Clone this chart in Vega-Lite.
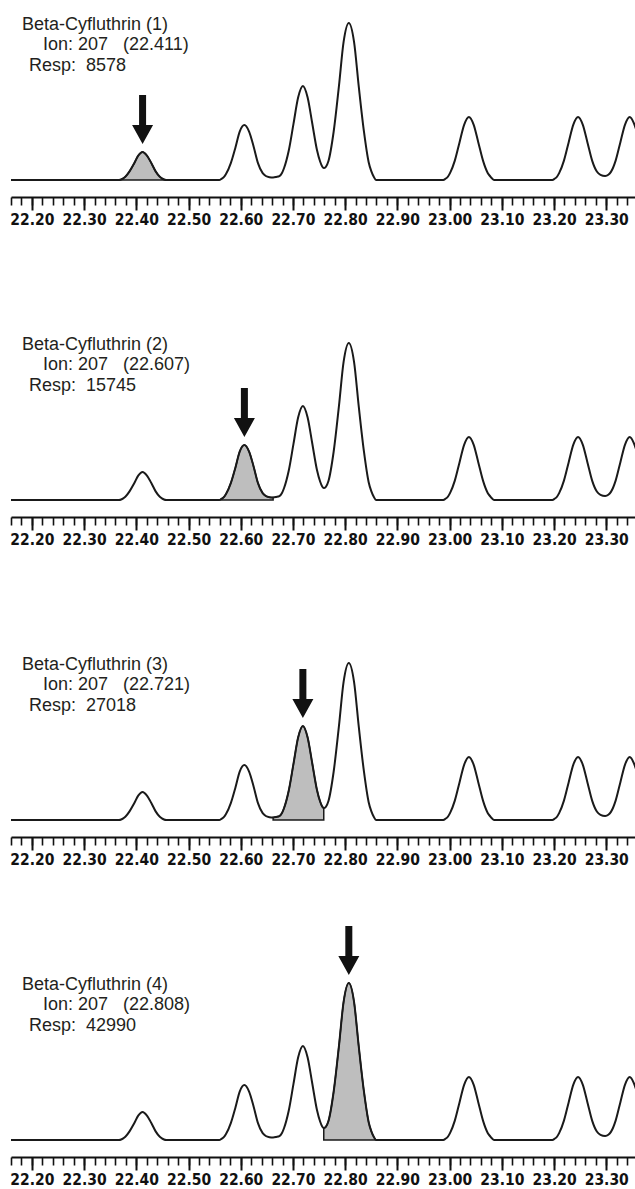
{
  "$schema": "https://vega.github.io/schema/vega-lite/v6.json",
  "background": "white",
  "padding": {"left": 7, "top": 0, "right": 0, "bottom": 0},
  "bounds": "flush",
  "spacing": 140,
  "config": {"view": {"stroke": null}},
  "datasets": {
    "curve": [
      {"t": 22.16, "v": 0},
      {"t": 22.367, "v": 0}, {"t": 22.371, "v": 0.5}, {"t": 22.375, "v": 1.6}, {"t": 22.379, "v": 3.2}, {"t": 22.387, "v": 8.6}, {"t": 22.396, "v": 16.7}, {"t": 22.404, "v": 24.6}, {"t": 22.412, "v": 28}, {"t": 22.42, "v": 24.6}, {"t": 22.429, "v": 16.7}, {"t": 22.437, "v": 8.6}, {"t": 22.445, "v": 3.2}, {"t": 22.449, "v": 1.6}, {"t": 22.453, "v": 0.5}, {"t": 22.457, "v": 0},
      {"t": 22.559, "v": 0}, {"t": 22.563, "v": 1.1}, {"t": 22.568, "v": 3.1}, {"t": 22.572, "v": 6.2}, {"t": 22.581, "v": 16.9}, {"t": 22.59, "v": 32.8}, {"t": 22.598, "v": 48.4}, {"t": 22.607, "v": 55}, {"t": 22.616, "v": 48.4}, {"t": 22.625, "v": 32.8}, {"t": 22.633, "v": 16.9}, {"t": 22.642, "v": 6.8}, {"t": 22.648, "v": 4.0}, {"t": 22.655, "v": 2.8}, {"t": 22.662, "v": 2.5}, {"t": 22.668, "v": 3.0},
      {"t": 22.674, "v": 3.9}, {"t": 22.679, "v": 7.0}, {"t": 22.683, "v": 12.0}, {"t": 22.692, "v": 29.5}, {"t": 22.701, "v": 56.1}, {"t": 22.71, "v": 82.7}, {"t": 22.719, "v": 94}, {"t": 22.728, "v": 82.7}, {"t": 22.737, "v": 56.5}, {"t": 22.746, "v": 30}, {"t": 22.752, "v": 18.5}, {"t": 22.756, "v": 13.5}, {"t": 22.759, "v": 12},
      {"t": 22.763, "v": 13.2}, {"t": 22.768, "v": 19}, {"t": 22.778, "v": 48.5}, {"t": 22.788, "v": 93.6}, {"t": 22.797, "v": 138.1}, {"t": 22.807, "v": 157}, {"t": 22.817, "v": 138.1}, {"t": 22.826, "v": 93.6}, {"t": 22.836, "v": 48.3}, {"t": 22.845, "v": 17.8}, {"t": 22.85, "v": 8.8}, {"t": 22.855, "v": 3.0}, {"t": 22.859, "v": 0},
      {"t": 22.988, "v": 0}, {"t": 22.992, "v": 1.2}, {"t": 22.997, "v": 3.5}, {"t": 23.001, "v": 7.1}, {"t": 23.01, "v": 19.4}, {"t": 23.019, "v": 37.6}, {"t": 23.028, "v": 55.4}, {"t": 23.037, "v": 63}, {"t": 23.046, "v": 55.4}, {"t": 23.055, "v": 37.6}, {"t": 23.064, "v": 19.4}, {"t": 23.073, "v": 7.1}, {"t": 23.078, "v": 3.5}, {"t": 23.082, "v": 1.2}, {"t": 23.086, "v": 0},
      {"t": 23.197, "v": 0}, {"t": 23.201, "v": 1.2}, {"t": 23.206, "v": 3.5}, {"t": 23.21, "v": 7.1}, {"t": 23.219, "v": 19.4}, {"t": 23.228, "v": 37.6}, {"t": 23.237, "v": 55.4}, {"t": 23.246, "v": 63}, {"t": 23.255, "v": 55.4}, {"t": 23.264, "v": 37.6}, {"t": 23.273, "v": 19.4}, {"t": 23.282, "v": 8.5}, {"t": 23.289, "v": 5.2}, {"t": 23.298, "v": 4.0}, {"t": 23.304, "v": 5.2},
      {"t": 23.309, "v": 8.1}, {"t": 23.318, "v": 19.4}, {"t": 23.327, "v": 37.6}, {"t": 23.336, "v": 55.4}, {"t": 23.345, "v": 63}, {"t": 23.354, "v": 55.4}, {"t": 23.357, "v": 51}
    ],
    "info": [
      {"panel": 1, "name": "Beta-Cyfluthrin (1)", "ion": "Ion: 207\u00a0\u00a0 (22.411)", "resp": "Resp:\u00a0 8578", "apex_t": 22.412, "apex_v": 28},
      {"panel": 2, "name": "Beta-Cyfluthrin (2)", "ion": "Ion: 207\u00a0\u00a0 (22.607)", "resp": "Resp:\u00a0 15745", "apex_t": 22.607, "apex_v": 55},
      {"panel": 3, "name": "Beta-Cyfluthrin (3)", "ion": "Ion: 207\u00a0\u00a0 (22.721)", "resp": "Resp:\u00a0 27018", "apex_t": 22.719, "apex_v": 94},
      {"panel": 4, "name": "Beta-Cyfluthrin (4)", "ion": "Ion: 207\u00a0\u00a0 (22.808)", "resp": "Resp:\u00a0 42990", "apex_t": 22.807, "apex_v": 157}
    ]
  },
  "vconcat": [
    {
      "width": 625, "height": 180,
      "resolve": {"axis": {"x": "independent"}},
      "layer": [
        {"data": {"name": "curve"}, "transform": [{"filter": "datum.t >= 22.36 && datum.t <= 22.46"}],
         "mark": {"type": "area", "interpolate": "monotone", "fill": "#bebebe", "stroke": "#1a1a1a", "strokeWidth": 1.5},
         "encoding": {"x": {"field": "t", "type": "quantitative", "scale": {"domain": [22.16, 23.357], "nice": false, "zero": false}, "axis": null},
                      "y": {"field": "v", "type": "quantitative", "scale": {"domain": [0, 180], "nice": false}, "axis": null}}},
        {"data": {"name": "curve"},
         "mark": {"type": "line", "interpolate": "monotone", "color": "#1a1a1a", "strokeWidth": 2},
         "encoding": {"x": {"field": "t", "type": "quantitative", "scale": {"domain": [22.16, 23.357], "nice": false, "zero": false},
                            "axis": {"orient": "bottom", "offset": 17, "values": [22.16,22.18,22.2,22.22,22.24,22.26,22.28,22.3,22.32,22.34,22.36,22.38,22.4,22.42,22.44,22.46,22.48,22.5,22.52,22.54,22.56,22.58,22.6,22.62,22.64,22.66,22.68,22.7,22.72,22.74,22.76,22.78,22.8,22.82,22.84,22.86,22.88,22.9,22.92,22.94,22.96,22.98,23,23.02,23.04,23.06,23.08,23.1,23.12,23.14,23.16,23.18,23.2,23.22,23.24,23.26,23.28,23.3,23.32,23.34], "labels": false, "grid": false, "title": null, "tickSize": 8, "tickWidth": 1.6, "tickColor": "#111111", "domain": true, "domainWidth": 2, "domainColor": "#111111"}},
                      "y": {"field": "v", "type": "quantitative", "scale": {"domain": [0, 180], "nice": false}, "axis": null}}},
        {"data": {"name": "info"}, "transform": [{"filter": "datum.panel == 1"}],
         "mark": {"type": "point", "shape": "M-3.5,-57L3.5,-57L3.5,-27L10.5,-27L0,-8L-10.5,-27L-3.5,-27Z", "size": 4, "filled": true, "color": "#111111", "opacity": 1, "strokeWidth": 0},
         "encoding": {"x": {"field": "apex_t", "type": "quantitative", "scale": {"domain": [22.16, 23.357], "nice": false, "zero": false},
                            "axis": {"orient": "bottom", "offset": 17, "values": [22.2,22.3,22.4,22.5,22.6,22.7,22.8,22.9,23,23.1,23.2,23.3], "format": ".2f", "grid": false, "title": null, "domain": false, "tickSize": 13, "tickWidth": 2, "tickColor": "#111111", "labelFont": "DejaVu Sans Condensed", "labelFontWeight": "bold", "labelFontSize": 15.5, "labelColor": "#111111", "labelPadding": 2, "labelOverlap": false, "labelFlush": false}},
                      "y": {"field": "apex_v", "type": "quantitative", "scale": {"domain": [0, 180], "nice": false}, "axis": null}}},
        {"data": {"name": "info"}, "transform": [{"filter": "datum.panel == 1"}],
         "mark": {"type": "text", "align": "left", "baseline": "middle", "font": "Liberation Sans", "fontSize": 18, "color": "#231f20"},
         "encoding": {"x": {"datum": 22.181, "type": "quantitative", "scale": {"domain": [22.16, 23.357], "nice": false, "zero": false}, "axis": null},
                      "y": {"datum": 155.5, "type": "quantitative", "scale": {"domain": [0, 180], "nice": false}, "axis": null},
                      "text": {"field": "name"}}},
        {"data": {"name": "info"}, "transform": [{"filter": "datum.panel == 1"}],
         "mark": {"type": "text", "align": "left", "baseline": "middle", "font": "Liberation Sans", "fontSize": 18, "color": "#231f20"},
         "encoding": {"x": {"datum": 22.2211, "type": "quantitative", "scale": {"domain": [22.16, 23.357], "nice": false, "zero": false}, "axis": null},
                      "y": {"datum": 135, "type": "quantitative", "scale": {"domain": [0, 180], "nice": false}, "axis": null},
                      "text": {"field": "ion"}}},
        {"data": {"name": "info"}, "transform": [{"filter": "datum.panel == 1"}],
         "mark": {"type": "text", "align": "left", "baseline": "middle", "font": "Liberation Sans", "fontSize": 18, "color": "#231f20"},
         "encoding": {"x": {"datum": 22.1945, "type": "quantitative", "scale": {"domain": [22.16, 23.357], "nice": false, "zero": false}, "axis": null},
                      "y": {"datum": 114.5, "type": "quantitative", "scale": {"domain": [0, 180], "nice": false}, "axis": null},
                      "text": {"field": "resp"}}}
      ]
    },
    {
      "width": 625, "height": 180,
      "resolve": {"axis": {"x": "independent"}},
      "layer": [
        {"data": {"name": "curve"}, "transform": [{"filter": "datum.t >= 22.555 && datum.t <= 22.6625"}],
         "mark": {"type": "area", "interpolate": "monotone", "fill": "#bebebe", "stroke": "#1a1a1a", "strokeWidth": 1.5},
         "encoding": {"x": {"field": "t", "type": "quantitative", "scale": {"domain": [22.16, 23.357], "nice": false, "zero": false}, "axis": null},
                      "y": {"field": "v", "type": "quantitative", "scale": {"domain": [0, 180], "nice": false}, "axis": null}}},
        {"data": {"name": "curve"},
         "mark": {"type": "line", "interpolate": "monotone", "color": "#1a1a1a", "strokeWidth": 2},
         "encoding": {"x": {"field": "t", "type": "quantitative", "scale": {"domain": [22.16, 23.357], "nice": false, "zero": false},
                            "axis": {"orient": "bottom", "offset": 17, "values": [22.16,22.18,22.2,22.22,22.24,22.26,22.28,22.3,22.32,22.34,22.36,22.38,22.4,22.42,22.44,22.46,22.48,22.5,22.52,22.54,22.56,22.58,22.6,22.62,22.64,22.66,22.68,22.7,22.72,22.74,22.76,22.78,22.8,22.82,22.84,22.86,22.88,22.9,22.92,22.94,22.96,22.98,23,23.02,23.04,23.06,23.08,23.1,23.12,23.14,23.16,23.18,23.2,23.22,23.24,23.26,23.28,23.3,23.32,23.34], "labels": false, "grid": false, "title": null, "tickSize": 8, "tickWidth": 1.6, "tickColor": "#111111", "domain": true, "domainWidth": 2, "domainColor": "#111111"}},
                      "y": {"field": "v", "type": "quantitative", "scale": {"domain": [0, 180], "nice": false}, "axis": null}}},
        {"data": {"name": "info"}, "transform": [{"filter": "datum.panel == 2"}],
         "mark": {"type": "point", "shape": "M-3.5,-57L3.5,-57L3.5,-27L10.5,-27L0,-8L-10.5,-27L-3.5,-27Z", "size": 4, "filled": true, "color": "#111111", "opacity": 1, "strokeWidth": 0},
         "encoding": {"x": {"field": "apex_t", "type": "quantitative", "scale": {"domain": [22.16, 23.357], "nice": false, "zero": false},
                            "axis": {"orient": "bottom", "offset": 17, "values": [22.2,22.3,22.4,22.5,22.6,22.7,22.8,22.9,23,23.1,23.2,23.3], "format": ".2f", "grid": false, "title": null, "domain": false, "tickSize": 13, "tickWidth": 2, "tickColor": "#111111", "labelFont": "DejaVu Sans Condensed", "labelFontWeight": "bold", "labelFontSize": 15.5, "labelColor": "#111111", "labelPadding": 2, "labelOverlap": false, "labelFlush": false}},
                      "y": {"field": "apex_v", "type": "quantitative", "scale": {"domain": [0, 180], "nice": false}, "axis": null}}},
        {"data": {"name": "info"}, "transform": [{"filter": "datum.panel == 2"}],
         "mark": {"type": "text", "align": "left", "baseline": "middle", "font": "Liberation Sans", "fontSize": 18, "color": "#231f20"},
         "encoding": {"x": {"datum": 22.181, "type": "quantitative", "scale": {"domain": [22.16, 23.357], "nice": false, "zero": false}, "axis": null},
                      "y": {"datum": 155.5, "type": "quantitative", "scale": {"domain": [0, 180], "nice": false}, "axis": null},
                      "text": {"field": "name"}}},
        {"data": {"name": "info"}, "transform": [{"filter": "datum.panel == 2"}],
         "mark": {"type": "text", "align": "left", "baseline": "middle", "font": "Liberation Sans", "fontSize": 18, "color": "#231f20"},
         "encoding": {"x": {"datum": 22.2211, "type": "quantitative", "scale": {"domain": [22.16, 23.357], "nice": false, "zero": false}, "axis": null},
                      "y": {"datum": 135, "type": "quantitative", "scale": {"domain": [0, 180], "nice": false}, "axis": null},
                      "text": {"field": "ion"}}},
        {"data": {"name": "info"}, "transform": [{"filter": "datum.panel == 2"}],
         "mark": {"type": "text", "align": "left", "baseline": "middle", "font": "Liberation Sans", "fontSize": 18, "color": "#231f20"},
         "encoding": {"x": {"datum": 22.1945, "type": "quantitative", "scale": {"domain": [22.16, 23.357], "nice": false, "zero": false}, "axis": null},
                      "y": {"datum": 114.5, "type": "quantitative", "scale": {"domain": [0, 180], "nice": false}, "axis": null},
                      "text": {"field": "resp"}}}
      ]
    },
    {
      "width": 625, "height": 180,
      "resolve": {"axis": {"x": "independent"}},
      "layer": [
        {"data": {"name": "curve"}, "transform": [{"filter": "datum.t >= 22.6615 && datum.t <= 22.7595"}],
         "mark": {"type": "area", "interpolate": "monotone", "fill": "#bebebe", "stroke": "#1a1a1a", "strokeWidth": 1.5},
         "encoding": {"x": {"field": "t", "type": "quantitative", "scale": {"domain": [22.16, 23.357], "nice": false, "zero": false}, "axis": null},
                      "y": {"field": "v", "type": "quantitative", "scale": {"domain": [0, 180], "nice": false}, "axis": null}}},
        {"data": {"name": "curve"},
         "mark": {"type": "line", "interpolate": "monotone", "color": "#1a1a1a", "strokeWidth": 2},
         "encoding": {"x": {"field": "t", "type": "quantitative", "scale": {"domain": [22.16, 23.357], "nice": false, "zero": false},
                            "axis": {"orient": "bottom", "offset": 17, "values": [22.16,22.18,22.2,22.22,22.24,22.26,22.28,22.3,22.32,22.34,22.36,22.38,22.4,22.42,22.44,22.46,22.48,22.5,22.52,22.54,22.56,22.58,22.6,22.62,22.64,22.66,22.68,22.7,22.72,22.74,22.76,22.78,22.8,22.82,22.84,22.86,22.88,22.9,22.92,22.94,22.96,22.98,23,23.02,23.04,23.06,23.08,23.1,23.12,23.14,23.16,23.18,23.2,23.22,23.24,23.26,23.28,23.3,23.32,23.34], "labels": false, "grid": false, "title": null, "tickSize": 8, "tickWidth": 1.6, "tickColor": "#111111", "domain": true, "domainWidth": 2, "domainColor": "#111111"}},
                      "y": {"field": "v", "type": "quantitative", "scale": {"domain": [0, 180], "nice": false}, "axis": null}}},
        {"data": {"name": "info"}, "transform": [{"filter": "datum.panel == 3"}],
         "mark": {"type": "point", "shape": "M-3.5,-57L3.5,-57L3.5,-27L10.5,-27L0,-8L-10.5,-27L-3.5,-27Z", "size": 4, "filled": true, "color": "#111111", "opacity": 1, "strokeWidth": 0},
         "encoding": {"x": {"field": "apex_t", "type": "quantitative", "scale": {"domain": [22.16, 23.357], "nice": false, "zero": false},
                            "axis": {"orient": "bottom", "offset": 17, "values": [22.2,22.3,22.4,22.5,22.6,22.7,22.8,22.9,23,23.1,23.2,23.3], "format": ".2f", "grid": false, "title": null, "domain": false, "tickSize": 13, "tickWidth": 2, "tickColor": "#111111", "labelFont": "DejaVu Sans Condensed", "labelFontWeight": "bold", "labelFontSize": 15.5, "labelColor": "#111111", "labelPadding": 2, "labelOverlap": false, "labelFlush": false}},
                      "y": {"field": "apex_v", "type": "quantitative", "scale": {"domain": [0, 180], "nice": false}, "axis": null}}},
        {"data": {"name": "info"}, "transform": [{"filter": "datum.panel == 3"}],
         "mark": {"type": "text", "align": "left", "baseline": "middle", "font": "Liberation Sans", "fontSize": 18, "color": "#231f20"},
         "encoding": {"x": {"datum": 22.181, "type": "quantitative", "scale": {"domain": [22.16, 23.357], "nice": false, "zero": false}, "axis": null},
                      "y": {"datum": 155.5, "type": "quantitative", "scale": {"domain": [0, 180], "nice": false}, "axis": null},
                      "text": {"field": "name"}}},
        {"data": {"name": "info"}, "transform": [{"filter": "datum.panel == 3"}],
         "mark": {"type": "text", "align": "left", "baseline": "middle", "font": "Liberation Sans", "fontSize": 18, "color": "#231f20"},
         "encoding": {"x": {"datum": 22.2211, "type": "quantitative", "scale": {"domain": [22.16, 23.357], "nice": false, "zero": false}, "axis": null},
                      "y": {"datum": 135, "type": "quantitative", "scale": {"domain": [0, 180], "nice": false}, "axis": null},
                      "text": {"field": "ion"}}},
        {"data": {"name": "info"}, "transform": [{"filter": "datum.panel == 3"}],
         "mark": {"type": "text", "align": "left", "baseline": "middle", "font": "Liberation Sans", "fontSize": 18, "color": "#231f20"},
         "encoding": {"x": {"datum": 22.1945, "type": "quantitative", "scale": {"domain": [22.16, 23.357], "nice": false, "zero": false}, "axis": null},
                      "y": {"datum": 114.5, "type": "quantitative", "scale": {"domain": [0, 180], "nice": false}, "axis": null},
                      "text": {"field": "resp"}}}
      ]
    },
    {
      "width": 625, "height": 180,
      "resolve": {"axis": {"x": "independent"}},
      "layer": [
        {"data": {"name": "curve"}, "transform": [{"filter": "datum.t >= 22.7585 && datum.t <= 22.86"}],
         "mark": {"type": "area", "interpolate": "monotone", "fill": "#bebebe", "stroke": "#1a1a1a", "strokeWidth": 1.5},
         "encoding": {"x": {"field": "t", "type": "quantitative", "scale": {"domain": [22.16, 23.357], "nice": false, "zero": false}, "axis": null},
                      "y": {"field": "v", "type": "quantitative", "scale": {"domain": [0, 180], "nice": false}, "axis": null}}},
        {"data": {"name": "curve"},
         "mark": {"type": "line", "interpolate": "monotone", "color": "#1a1a1a", "strokeWidth": 2},
         "encoding": {"x": {"field": "t", "type": "quantitative", "scale": {"domain": [22.16, 23.357], "nice": false, "zero": false},
                            "axis": {"orient": "bottom", "offset": 17, "values": [22.16,22.18,22.2,22.22,22.24,22.26,22.28,22.3,22.32,22.34,22.36,22.38,22.4,22.42,22.44,22.46,22.48,22.5,22.52,22.54,22.56,22.58,22.6,22.62,22.64,22.66,22.68,22.7,22.72,22.74,22.76,22.78,22.8,22.82,22.84,22.86,22.88,22.9,22.92,22.94,22.96,22.98,23,23.02,23.04,23.06,23.08,23.1,23.12,23.14,23.16,23.18,23.2,23.22,23.24,23.26,23.28,23.3,23.32,23.34], "labels": false, "grid": false, "title": null, "tickSize": 8, "tickWidth": 1.6, "tickColor": "#111111", "domain": true, "domainWidth": 2, "domainColor": "#111111"}},
                      "y": {"field": "v", "type": "quantitative", "scale": {"domain": [0, 180], "nice": false}, "axis": null}}},
        {"data": {"name": "info"}, "transform": [{"filter": "datum.panel == 4"}],
         "mark": {"type": "point", "shape": "M-3.5,-57L3.5,-57L3.5,-27L10.5,-27L0,-8L-10.5,-27L-3.5,-27Z", "size": 4, "filled": true, "color": "#111111", "opacity": 1, "strokeWidth": 0},
         "encoding": {"x": {"field": "apex_t", "type": "quantitative", "scale": {"domain": [22.16, 23.357], "nice": false, "zero": false},
                            "axis": {"orient": "bottom", "offset": 17, "values": [22.2,22.3,22.4,22.5,22.6,22.7,22.8,22.9,23,23.1,23.2,23.3], "format": ".2f", "grid": false, "title": null, "domain": false, "tickSize": 13, "tickWidth": 2, "tickColor": "#111111", "labelFont": "DejaVu Sans Condensed", "labelFontWeight": "bold", "labelFontSize": 15.5, "labelColor": "#111111", "labelPadding": 2, "labelOverlap": false, "labelFlush": false}},
                      "y": {"field": "apex_v", "type": "quantitative", "scale": {"domain": [0, 180], "nice": false}, "axis": null}}},
        {"data": {"name": "info"}, "transform": [{"filter": "datum.panel == 4"}],
         "mark": {"type": "text", "align": "left", "baseline": "middle", "font": "Liberation Sans", "fontSize": 18, "color": "#231f20"},
         "encoding": {"x": {"datum": 22.181, "type": "quantitative", "scale": {"domain": [22.16, 23.357], "nice": false, "zero": false}, "axis": null},
                      "y": {"datum": 155.5, "type": "quantitative", "scale": {"domain": [0, 180], "nice": false}, "axis": null},
                      "text": {"field": "name"}}},
        {"data": {"name": "info"}, "transform": [{"filter": "datum.panel == 4"}],
         "mark": {"type": "text", "align": "left", "baseline": "middle", "font": "Liberation Sans", "fontSize": 18, "color": "#231f20"},
         "encoding": {"x": {"datum": 22.2211, "type": "quantitative", "scale": {"domain": [22.16, 23.357], "nice": false, "zero": false}, "axis": null},
                      "y": {"datum": 135, "type": "quantitative", "scale": {"domain": [0, 180], "nice": false}, "axis": null},
                      "text": {"field": "ion"}}},
        {"data": {"name": "info"}, "transform": [{"filter": "datum.panel == 4"}],
         "mark": {"type": "text", "align": "left", "baseline": "middle", "font": "Liberation Sans", "fontSize": 18, "color": "#231f20"},
         "encoding": {"x": {"datum": 22.1945, "type": "quantitative", "scale": {"domain": [22.16, 23.357], "nice": false, "zero": false}, "axis": null},
                      "y": {"datum": 114.5, "type": "quantitative", "scale": {"domain": [0, 180], "nice": false}, "axis": null},
                      "text": {"field": "resp"}}}
      ]
    }
  ]
}
